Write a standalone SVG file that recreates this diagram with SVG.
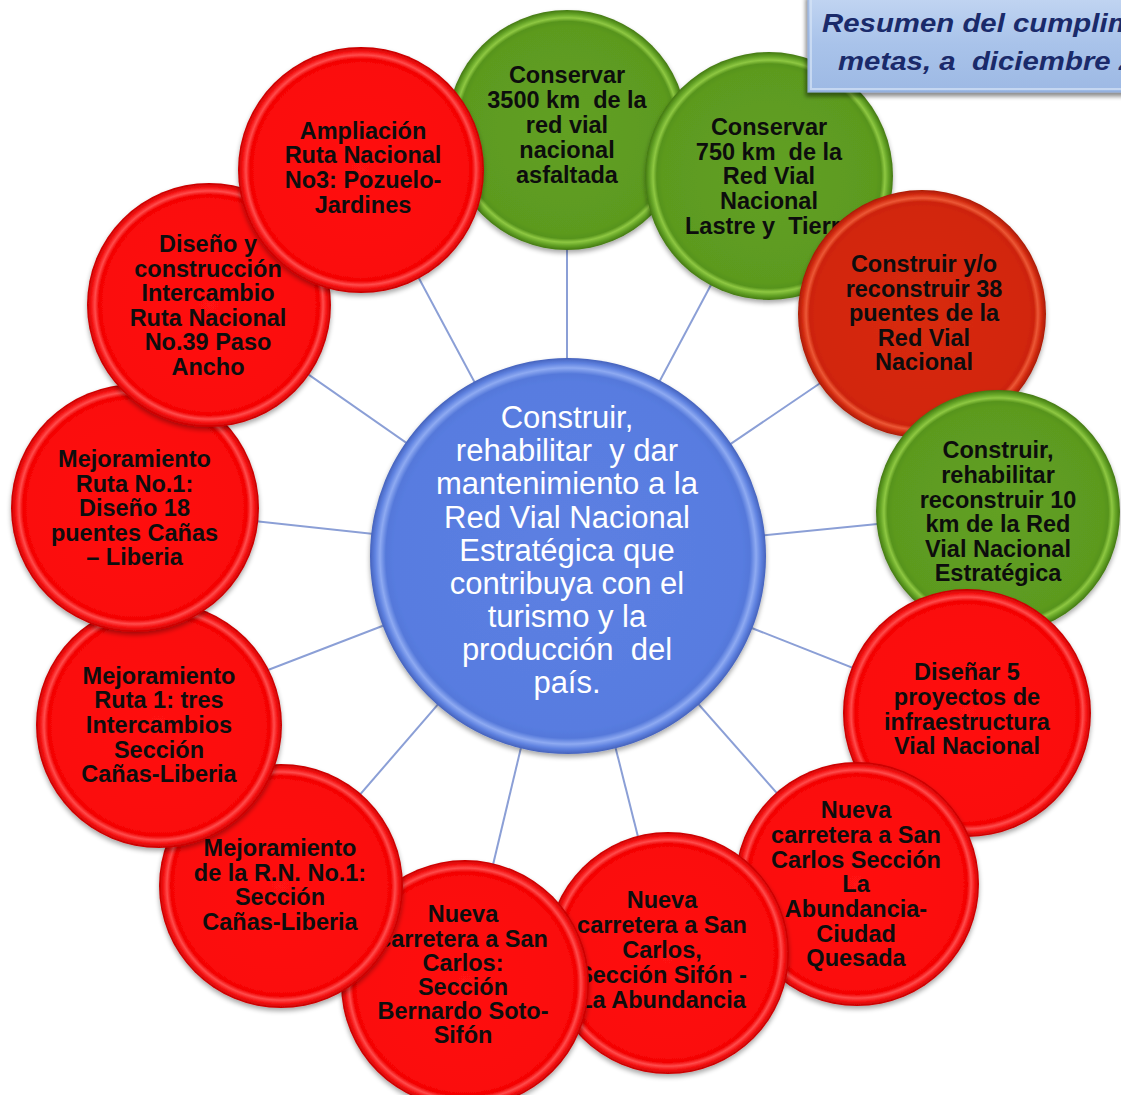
<svg xmlns="http://www.w3.org/2000/svg" width="1121" height="1095" viewBox="0 0 1121 1095">
<defs>
<style>
.t{font-family:"Liberation Sans",Arial,sans-serif;font-weight:bold;font-size:23.5px;text-anchor:middle;fill:#0d0d0d}
.c{font-family:"Liberation Sans",Arial,sans-serif;font-size:31px;text-anchor:middle;fill:#ffffff}
.ttl{font-family:"Liberation Sans",Arial,sans-serif;font-weight:bold;font-style:italic;font-size:26px;fill:#1a2a6a}
.con{stroke:#8b9fd6;stroke-width:2;fill:none}
.red{fill:url(#gRed);filter:url(#sh)}
.dred{fill:url(#gDred);filter:url(#sh)}
.grn{fill:url(#gGrn);filter:url(#sh)}
</style>
<radialGradient id="gRed" cx="0.5" cy="0.5" r="0.5">
<stop offset="0" stop-color="#ff1212"/>
<stop offset="0.86" stop-color="#fb0808"/>
<stop offset="0.905" stop-color="#f20404"/>
<stop offset="0.935" stop-color="#ff4c4c"/>
<stop offset="0.965" stop-color="#f51212"/>
<stop offset="1" stop-color="#c40000"/>
</radialGradient>
<radialGradient id="gDred" cx="0.5" cy="0.5" r="0.5">
<stop offset="0" stop-color="#d82a10"/>
<stop offset="0.86" stop-color="#d2260d"/>
<stop offset="0.905" stop-color="#cc220a"/>
<stop offset="0.935" stop-color="#ec5836"/>
<stop offset="0.965" stop-color="#d42c12"/>
<stop offset="1" stop-color="#a81a04"/>
</radialGradient>
<radialGradient id="gGrn" cx="0.5" cy="0.5" r="0.5">
<stop offset="0" stop-color="#62a024"/>
<stop offset="0.86" stop-color="#5c9a1f"/>
<stop offset="0.905" stop-color="#57941c"/>
<stop offset="0.935" stop-color="#8ec842"/>
<stop offset="0.965" stop-color="#64a326"/>
<stop offset="1" stop-color="#437812"/>
</radialGradient>
<radialGradient id="gBlue" cx="0.5" cy="0.5" r="0.5">
<stop offset="0" stop-color="#5c80e2"/>
<stop offset="0.88" stop-color="#587ce0"/>
<stop offset="0.92" stop-color="#5478da"/>
<stop offset="0.95" stop-color="#8eaaf2"/>
<stop offset="0.975" stop-color="#5f82e0"/>
<stop offset="1" stop-color="#4562bc"/>
</radialGradient>
<linearGradient id="gTitle" x1="0" y1="0" x2="0" y2="1">
<stop offset="0" stop-color="#c3d6f2"/>
<stop offset="0.5" stop-color="#a9c3ea"/>
<stop offset="1" stop-color="#9db9e4"/>
</linearGradient>
<filter id="sh" x="-10%" y="-10%" width="120%" height="125%">
<feGaussianBlur in="SourceAlpha" stdDeviation="2.5"/>
<feOffset dx="0" dy="3" result="b"/>
<feComponentTransfer><feFuncA type="linear" slope="0.35"/></feComponentTransfer>
<feMerge><feMergeNode/><feMergeNode in="SourceGraphic"/></feMerge>
</filter>
<filter id="shT" x="-10%" y="-20%" width="120%" height="150%">
<feGaussianBlur in="SourceAlpha" stdDeviation="2"/>
<feOffset dx="-2" dy="4" result="b"/>
<feComponentTransfer><feFuncA type="linear" slope="0.45"/></feComponentTransfer>
<feMerge><feMergeNode/><feMergeNode in="SourceGraphic"/></feMerge>
</filter>
</defs>
<rect width="1121" height="1095" fill="#ffffff"/>

<g id="connectors">
<line class="con" x1="567" y1="555" x2="567" y2="130"/>
<line class="con" x1="567" y1="555" x2="769" y2="176"/>
<line class="con" x1="567" y1="555" x2="922" y2="314"/>
<line class="con" x1="567" y1="555" x2="998" y2="512"/>
<line class="con" x1="567" y1="555" x2="967" y2="713"/>
<line class="con" x1="567" y1="555" x2="857" y2="884"/>
<line class="con" x1="567" y1="555" x2="667" y2="952"/>
<line class="con" x1="567" y1="555" x2="465" y2="982"/>
<line class="con" x1="567" y1="555" x2="281" y2="886"/>
<line class="con" x1="567" y1="555" x2="159" y2="712"/>
<line class="con" x1="567" y1="555" x2="135" y2="508"/>
<line class="con" x1="567" y1="555" x2="209" y2="305"/>
<line class="con" x1="567" y1="555" x2="361" y2="170"/>
</g>

<g id="node-center">
<circle cx="568" cy="556" r="198" fill="url(#gBlue)" filter="url(#sh)"/>
<text class="c" x="567" y="428">Construir,</text>
<text class="c" x="567" y="461">rehabilitar&#160; y dar</text>
<text class="c" x="567" y="494">mantenimiento a la</text>
<text class="c" x="567" y="527.5">Red Vial Nacional</text>
<text class="c" x="567" y="560.5">Estratégica que</text>
<text class="c" x="567" y="593.5">contribuya con el</text>
<text class="c" x="567" y="627">turismo y la</text>
<text class="c" x="567" y="660">producción&#160; del</text>
<text class="c" x="567" y="693">país.</text>
</g>

<g id="node-1">
<circle class="grn" cx="567" cy="130" r="120"/>
<text class="t" x="567" y="83">Conservar</text>
<text class="t" x="567" y="108">3500 km&#160; de la</text>
<text class="t" x="567" y="133">red vial</text>
<text class="t" x="567" y="158">nacional</text>
<text class="t" x="567" y="183">asfaltada</text>
</g>

<g id="node-2">
<circle class="grn" cx="769" cy="176" r="124"/>
<text class="t" x="769" y="135">Conservar</text>
<text class="t" x="769" y="159.5">750 km&#160; de la</text>
<text class="t" x="769" y="184">Red Vial</text>
<text class="t" x="769" y="209">Nacional</text>
<text class="t" x="769" y="234">Lastre y&#160; Tierra</text>
</g>

<g id="node-3">
<circle class="dred" cx="922" cy="314" r="124"/>
<text class="t" x="924" y="272">Construir y/o</text>
<text class="t" x="924" y="296.5">reconstruir 38</text>
<text class="t" x="924" y="321">puentes de la</text>
<text class="t" x="924" y="345.5">Red Vial</text>
<text class="t" x="924" y="370">Nacional</text>
</g>

<g id="node-4">
<circle class="grn" cx="998" cy="512" r="122"/>
<text class="t" x="998" y="458">Construir,</text>
<text class="t" x="998" y="483">rehabilitar</text>
<text class="t" x="998" y="507.5">reconstruir 10</text>
<text class="t" x="998" y="532">km de la Red</text>
<text class="t" x="998" y="557">Vial Nacional</text>
<text class="t" x="998" y="581">Estratégica</text>
</g>

<g id="node-5">
<circle class="red" cx="967" cy="713" r="124"/>
<text class="t" x="967" y="680">Diseñar 5</text>
<text class="t" x="967" y="705">proyectos de</text>
<text class="t" x="967" y="729.5">infraestructura</text>
<text class="t" x="967" y="754">Vial Nacional</text>
</g>

<g id="node-6">
<circle class="red" cx="857" cy="884" r="122"/>
<text class="t" x="856" y="818">Nueva</text>
<text class="t" x="856" y="843">carretera a San</text>
<text class="t" x="856" y="867.5">Carlos Sección</text>
<text class="t" x="856" y="892">La</text>
<text class="t" x="856" y="917">Abundancia-</text>
<text class="t" x="856" y="941.5">Ciudad</text>
<text class="t" x="856" y="966">Quesada</text>
</g>

<g id="node-7">
<circle class="red" cx="668" cy="953" r="121"/>
<text class="t" x="662" y="908">Nueva</text>
<text class="t" x="662" y="933">carretera a San</text>
<text class="t" x="662" y="958">Carlos,</text>
<text class="t" x="662" y="983">Sección Sifón -</text>
<text class="t" x="662" y="1008">La Abundancia</text>
</g>

<g id="node-8">
<circle class="red" cx="465" cy="984" r="124"/>
<text class="t" x="463" y="922">Nueva</text>
<text class="t" x="463" y="946.5">carretera a San</text>
<text class="t" x="463" y="971">Carlos:</text>
<text class="t" x="463" y="995">Sección</text>
<text class="t" x="463" y="1019">Bernardo Soto-</text>
<text class="t" x="463" y="1043">Sifón</text>
</g>

<g id="node-9">
<circle class="red" cx="281" cy="886" r="122"/>
<text class="t" x="280" y="856">Mejoramiento</text>
<text class="t" x="280" y="881">de la R.N. No.1:</text>
<text class="t" x="280" y="905">Sección</text>
<text class="t" x="280" y="930">Cañas-Liberia</text>
</g>

<g id="node-10">
<circle class="red" cx="159" cy="725" r="123"/>
<text class="t" x="159" y="684">Mejoramiento</text>
<text class="t" x="159" y="708">Ruta 1: tres</text>
<text class="t" x="159" y="733">Intercambios</text>
<text class="t" x="159" y="758">Sección</text>
<text class="t" x="159" y="782">Cañas-Liberia</text>
</g>

<g id="node-11">
<circle class="red" cx="135" cy="508" r="124"/>
<text class="t" x="134.5" y="467">Mejoramiento</text>
<text class="t" x="134.5" y="491.5">Ruta No.1:</text>
<text class="t" x="134.5" y="516">Diseño 18</text>
<text class="t" x="134.5" y="540.5">puentes Cañas</text>
<text class="t" x="134.5" y="565">– Liberia</text>
</g>

<g id="node-12">
<circle class="red" cx="209" cy="305" r="122"/>
<text class="t" x="208" y="252">Diseño y</text>
<text class="t" x="208" y="276.5">construcción</text>
<text class="t" x="208" y="301">Intercambio</text>
<text class="t" x="208" y="325.5">Ruta Nacional</text>
<text class="t" x="208" y="350">No.39 Paso</text>
<text class="t" x="208" y="374.5">Ancho</text>
</g>

<g id="node-13">
<circle class="red" cx="361" cy="170" r="123"/>
<text class="t" x="363" y="138.5">Ampliación</text>
<text class="t" x="363" y="163">Ruta Nacional</text>
<text class="t" x="363" y="188">No3: Pozuelo-</text>
<text class="t" x="363" y="213">Jardines</text>
</g>

<g id="title">
<rect x="808" y="-6" width="330" height="98" fill="url(#gTitle)" stroke="#8aa6d6" stroke-width="1" filter="url(#shT)"/>
<rect x="811" y="-3" width="324" height="92" fill="none" stroke="#d6e4f7" stroke-width="2" opacity="0.7"/>
<text class="ttl" transform="translate(822,32) scale(1.13,1)">Resumen del cumplim</text>
<text class="ttl" transform="translate(838,70) scale(1.13,1)">metas, a&#160; diciembre 2</text>
</g>
</svg>
